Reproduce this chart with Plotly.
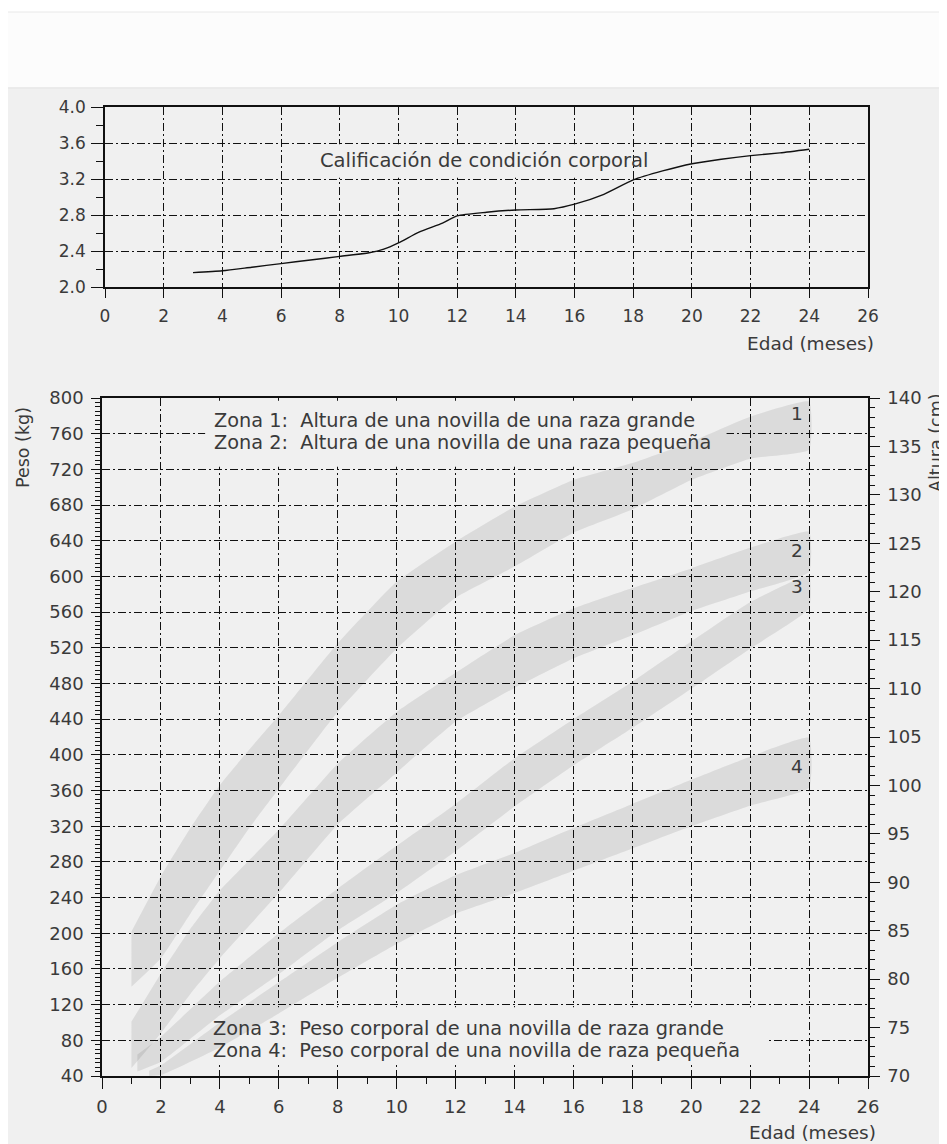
import plotly.graph_objects as go

# page = 947x1144 window; the html body adds an 8 px margin, so the figure is 939x1136
W, H = 939, 1136
OFF = 8
FONT = "DejaVu Sans"
TXT = "#3a3a3a"
BG = "#f0f0f0"
BAND = "rgba(0,0,0,0.085)"
GRID_DASH = "8px,3px,2px,3px"

# ---------------- data ----------------
# top chart: body condition score vs age (months)
bcs_month = [3.0, 4, 5, 6, 7, 8, 9, 9.5, 10, 10.7, 11.5, 12, 13, 14, 15.3, 16, 17, 18, 19, 20, 21, 22, 23, 24]
bcs_value = [2.16, 2.18, 2.22, 2.26, 2.30, 2.34, 2.38, 2.42, 2.49, 2.61, 2.71, 2.79, 2.83, 2.856, 2.87, 2.92,
             3.03, 3.19, 3.29, 3.37, 3.42, 3.46, 3.49, 3.53]

# bottom chart bands (kg scale of left axis)
z1_month = [1, 2, 3, 4, 5, 6, 8, 10, 12, 14, 16, 18, 20, 22, 24]
z1_upper = [202, 264, 318, 366, 406, 444, 525, 594, 639, 678, 708, 727, 751, 779, 796]
z1_lower = [140, 172, 222, 270, 318, 362, 448, 519, 576, 611, 649, 675, 708, 732, 742]

z2_month = [1, 2, 3, 4, 6, 8, 10, 12, 14, 16, 18, 20, 22, 24]
z2_upper = [101, 155, 205, 248, 316, 390, 448, 492, 534, 564, 587, 609, 632, 650]
z2_lower = [49, 88, 132, 172, 245, 322, 380, 437, 475, 508, 534, 561, 583, 605]

z3_month = [1.2, 2, 4, 6, 8, 10, 12, 14, 16, 18, 20, 22, 24]
z3_upper = [64, 84, 146, 200, 250, 298, 345, 396, 440, 482, 527, 571, 601]
z3_lower = [45, 56, 108, 154, 203, 245, 292, 342, 388, 430, 474, 519, 564]

z4_month = [1.6, 2, 4, 6, 8, 10, 12, 14, 16, 18, 20, 22, 24]
z4_upper = [46, 52, 100, 145, 190, 232, 265, 290, 318, 345, 372, 398, 419]
z4_lower = [40, 41, 72, 110, 150, 188, 222, 245, 270, 295, 320, 343, 363]

zone_labels = ["1", "2", "3", "4"]
zone_label_y = [783, 629, 589, 387]

x_ticks = list(range(0, 27, 2))

# ---------------- helpers (screen pixels -> paper fractions) ----------------
def px(x):
    return (x - OFF) / W

def py(y):
    return 1 - (y - OFF) / H

fig = go.Figure()

fig.add_trace(go.Scatter(x=bcs_month, y=bcs_value, mode="lines",
                         line=dict(color="#111", width=1.4, shape="spline", smoothing=0.6),
                         xaxis="x", yaxis="y", hoverinfo="skip", showlegend=False))

for m, up, lo in [(z1_month, z1_upper, z1_lower), (z2_month, z2_upper, z2_lower),
                  (z3_month, z3_upper, z3_lower), (z4_month, z4_upper, z4_lower)]:
    fig.add_trace(go.Scatter(x=m + m[::-1], y=up + lo[::-1], mode="lines", fill="toself",
                             fillcolor=BAND, line=dict(width=0, shape="spline", smoothing=0.4),
                             xaxis="x2", yaxis="y2", hoverinfo="skip", showlegend=False))

# ---------------- axes ----------------
top_x_dom = [px(105), px(868)]
bot_x_dom = [px(102), px(868)]
top_y_dom = [py(287), py(107)]
bot_y_dom = [py(1076), py(398)]

common = dict(showline=True, linecolor="#111", linewidth=1.5, ticks="outside", tickcolor="#111",
              tickwidth=1.3, gridcolor="#111", gridwidth=1.1, griddash=GRID_DASH, zeroline=False,
              automargin=False)

fig.update_layout(
    width=W, height=H, autosize=False,
    margin=dict(l=0, r=0, t=0, b=0, pad=0),
    paper_bgcolor="white", plot_bgcolor=BG,
    font=dict(family=FONT, color=TXT),
    xaxis=dict(domain=top_x_dom, anchor="y", range=[0, 26], tickvals=x_ticks, ticklen=9,
               showgrid=True, mirror=True, tickfont=dict(size=17, color=TXT), ticklabelstandoff=4,
               **common),
    yaxis=dict(domain=top_y_dom, anchor="x", range=[2, 4], tick0=2, dtick=0.4, tickformat=".1f",
               ticklen=12, showgrid=True, mirror=True, tickfont=dict(size=17, color=TXT),
               ticklabelstandoff=2,
               minor=dict(dtick=0.2, tick0=2, ticklen=7, tickcolor="#111", tickwidth=1.2, showgrid=False),
               **common),
    xaxis2=dict(domain=bot_x_dom, anchor="y2", range=[0, 26], tickvals=x_ticks, ticklen=11,
                showgrid=True, mirror=True, tickfont=dict(size=18, color=TXT), ticklabelstandoff=3,
                minor=dict(dtick=1, tick0=0, ticklen=6, tickcolor="#111", tickwidth=1.2, showgrid=False),
                **common),
    yaxis2=dict(domain=bot_y_dom, anchor="x2", range=[40, 800], tick0=40, dtick=40, ticklen=9,
                showgrid=True, mirror=False, tickfont=dict(size=18, color=TXT), ticklabelstandoff=4,
                minor=dict(dtick=5, tick0=40, ticklen=5, tickcolor="#111", tickwidth=1.1, showgrid=False),
                **common),
    yaxis3=dict(domain=bot_y_dom, anchor="x2", overlaying="y2", side="right", range=[70, 140],
                tick0=70, dtick=5, ticklen=10, showgrid=False, tickfont=dict(size=18, color=TXT),
                ticklabelstandoff=4,
                minor=dict(dtick=1, tick0=70, ticklen=5, tickcolor="#111", tickwidth=1.1, showgrid=False),
                **{k: v for k, v in common.items() if k not in ("gridcolor", "gridwidth", "griddash")}),
)

# invisible trace to activate y3
fig.add_trace(go.Scatter(x=[None], y=[None], xaxis="x2", yaxis="y3", showlegend=False, hoverinfo="skip"))

shapes = [
    # page background pieces
    dict(type="rect", xref="paper", yref="paper", x0=px(5), x1=px(950), y0=py(88), y1=py(12),
         fillcolor="#fcfcfc", line=dict(color="#e8e8e8", width=1), layer="below"),
    dict(type="rect", xref="paper", yref="paper", x0=px(5), x1=px(950), y0=py(1150), y1=py(88),
         fillcolor=BG, line=dict(color="#e4e4e4", width=1), layer="below"),
    # masks hiding grid lines behind texts
    dict(type="rect", xref="x", yref="y", x0=7.1, x1=17.0, y0=3.215, y1=3.585,
         fillcolor=BG, line=dict(width=0), layer="between"),
    dict(type="rect", xref="x2", yref="y2", x0=3.5, x1=21.2, y0=723, y1=797,
         fillcolor=BG, line=dict(width=0), layer="between"),
    dict(type="rect", xref="x2", yref="y2", x0=3.5, x1=22.6, y0=54, y1=117,
         fillcolor=BG, line=dict(width=0), layer="between"),
]
fig.update_layout(shapes=shapes)

ann = []
def add_text(text, x, y, size, xanchor="left", xref="paper", yref="paper", textangle=0):
    ann.append(dict(text=text, x=x, y=y, xref=xref, yref=yref, showarrow=False, xanchor=xanchor,
                    yanchor="middle", textangle=textangle, font=dict(family=FONT, size=size, color=TXT)))

add_text("Calificación de condición corporal", 12.9, 3.40, 19.5, xanchor="center", xref="x", yref="y")
add_text("Edad (meses)", px(876), py(343), 18.5, xanchor="right")
add_text("Edad (meses)", px(878), py(1132), 18.5, xanchor="right")
add_text("Peso (kg)", px(23), py(448), 17.5, xanchor="center", textangle=-90)
add_text("Altura (cm)", px(936), py(443), 17.5, xanchor="center", textangle=-90)
add_text("Zona 1:  Altura de una novilla de una raza grande", px(212), py(420.5), 19.3)
add_text("Zona 2:  Altura de una novilla de una raza pequeña", px(212), py(442.5), 19.3)
add_text("Zona 3:  Peso corporal de una novilla de raza grande", px(211), py(1028), 19.3)
add_text("Zona 4:  Peso corporal de una novilla de raza pequeña", px(211), py(1050.5), 19.3)
for lab, yv in zip(zone_labels, zone_label_y):
    add_text(lab, 23.85, yv, 18.5, xanchor="right", xref="x2", yref="y2")
fig.update_layout(annotations=ann)

fig.write_html("out.html")
